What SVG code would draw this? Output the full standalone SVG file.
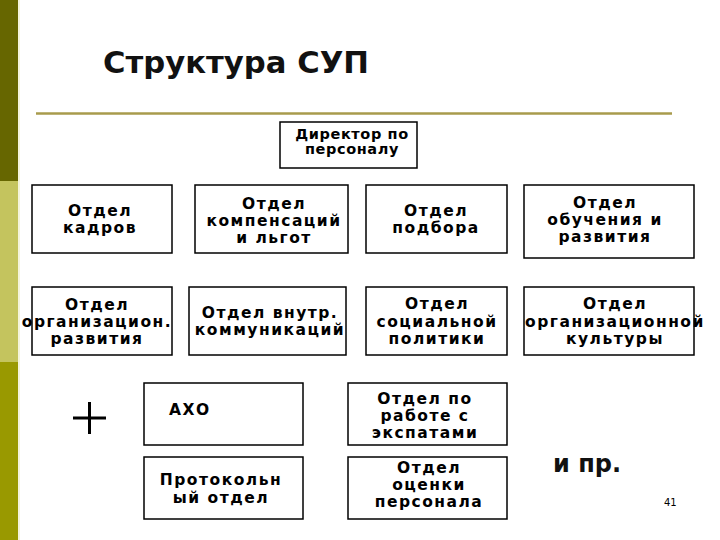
<svg xmlns="http://www.w3.org/2000/svg" width="720" height="540" viewBox="0 0 720 540">
  <style>
    .box { fill: #ffffff; stroke: #000000; stroke-width: 1.5; }
    .t { font-family: "DejaVu Sans", "Liberation Sans", sans-serif; font-weight: bold; font-size: 15.5px; letter-spacing: 1.5px; fill: #000000; text-anchor: middle; }
    .dir { font-family: "DejaVu Sans", "Liberation Sans", sans-serif; font-weight: bold; font-size: 14.5px; letter-spacing: 0.6px; fill: #000000; text-anchor: middle; }
  </style>
  <rect x="0" y="0" width="720" height="540" fill="#ffffff"/>
  <!-- left bar -->
  <rect x="0" y="0" width="18" height="181" fill="#666600"/>
  <rect x="0" y="181" width="18" height="181" fill="#c4c45e"/>
  <rect x="0" y="362" width="18" height="178" fill="#999900"/>
  <rect x="18" y="0" width="2" height="540" fill="#f4f4dc"/>
  <!-- title -->
  <text x="103" y="73" font-family="DejaVu Sans, Liberation Sans, sans-serif" font-weight="bold" font-size="30" textLength="266" lengthAdjust="spacingAndGlyphs" fill="#111111">Структура СУП</text>
  <line x1="36" y1="113.5" x2="672" y2="113.5" stroke="#a89b4c" stroke-width="2.5"/>

  <g id="connectors"></g>

  <g id="director">
    <rect class="box" x="280" y="122" width="137" height="46"/>
    <text class="dir" x="352" y="139">Директор по</text>
    <text class="dir" x="352" y="154">персоналу</text>
  </g>

  <g id="kadry">
    <rect class="box" x="32" y="185" width="140" height="68"/>
    <text class="t" x="100" y="216">Отдел</text>
    <text class="t" x="100" y="233">кадров</text>
  </g>
  <g id="kompensatsii">
    <rect class="box" x="195" y="185" width="153" height="68"/>
    <text class="t" x="274" y="209">Отдел</text>
    <text class="t" x="274" y="226">компенсаций</text>
    <text class="t" x="274" y="243">и льгот</text>
  </g>
  <g id="podbor">
    <rect class="box" x="366" y="185" width="141" height="68"/>
    <text class="t" x="436" y="216">Отдел</text>
    <text class="t" x="436" y="233">подбора</text>
  </g>
  <g id="obuchenie">
    <rect class="box" x="524" y="185" width="170" height="73"/>
    <text class="t" x="605" y="208">Отдел</text>
    <text class="t" x="605" y="225">обучения и</text>
    <text class="t" x="605" y="242">развития</text>
  </g>

  <g id="org-razvitie">
    <rect class="box" x="32" y="287" width="140" height="68"/>
    <text class="t" x="97" y="310">Отдел</text>
    <text class="t" x="97" y="327">организацион.</text>
    <text class="t" x="97" y="344">развития</text>
  </g>
  <g id="vnutr-kommunikatsii">
    <rect class="box" x="189" y="287" width="157" height="68"/>
    <text class="t" x="270" y="318">Отдел внутр.</text>
    <text class="t" x="270" y="335">коммуникаций</text>
  </g>
  <g id="sots-politika">
    <rect class="box" x="366" y="287" width="141" height="68"/>
    <text class="t" x="437" y="309">Отдел</text>
    <text class="t" x="437" y="327">социальной</text>
    <text class="t" x="437" y="344">политики</text>
  </g>
  <g id="org-kultura">
    <rect class="box" x="524" y="287" width="170" height="68"/>
    <text class="t" x="615" y="309">Отдел</text>
    <text class="t" x="615" y="327">организационной</text>
    <text class="t" x="615" y="344">культуры</text>
  </g>

  <g id="plus">
    <line x1="73" y1="418" x2="106" y2="418" stroke="#000000" stroke-width="3"/>
    <line x1="89.5" y1="402" x2="89.5" y2="434" stroke="#000000" stroke-width="3"/>
  </g>

  <g id="aho">
    <rect class="box" x="144" y="383" width="159" height="62"/>
    <text class="t" x="169" y="415" style="text-anchor:start">АХО</text>
  </g>
  <g id="ekspaty">
    <rect class="box" x="348" y="383" width="159" height="62"/>
    <text class="t" x="425" y="404">Отдел по</text>
    <text class="t" x="425" y="421">работе с</text>
    <text class="t" x="425" y="438">экспатами</text>
  </g>
  <g id="protokol">
    <rect class="box" x="144" y="457" width="159" height="62"/>
    <text class="t" x="221" y="485">Протокольн</text>
    <text class="t" x="221" y="503">ый отдел</text>
  </g>
  <g id="otsenka">
    <rect class="box" x="348" y="457" width="159" height="62"/>
    <text class="t" x="429" y="473">Отдел</text>
    <text class="t" x="429" y="490">оценки</text>
    <text class="t" x="429" y="507">персонала</text>
  </g>

  <text x="553" y="472" font-family="DejaVu Sans, Liberation Sans, sans-serif" font-weight="bold" font-size="24" fill="#111111">и пр.</text>
  <text x="664" y="506" font-family="DejaVu Sans, Liberation Sans, sans-serif" font-size="10" fill="#000000">41</text>
</svg>
